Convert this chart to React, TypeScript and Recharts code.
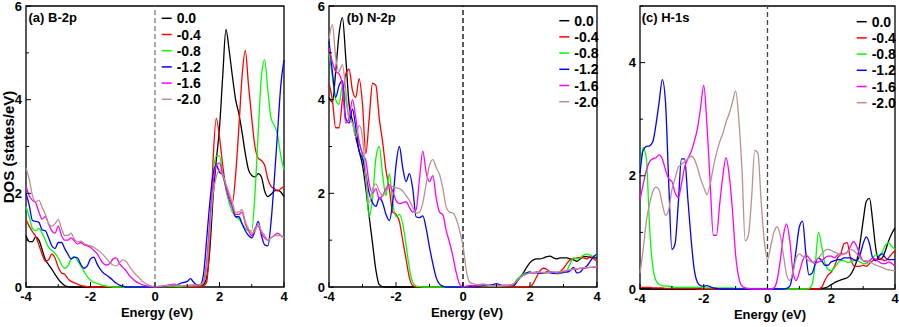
import React from 'react';
import { LineChart, Line, XAxis, YAxis, ReferenceLine, ReferenceArea } from 'recharts';

// energy grid (eV)
const energy = [
  -4.0, -3.9, -3.8, -3.7, -3.6, -3.5, -3.4, -3.3, -3.2, -3.1,
  -3.0, -2.9, -2.8, -2.7, -2.6, -2.5, -2.4, -2.3, -2.2, -2.1,
  -2.0, -1.9, -1.8, -1.7, -1.6, -1.5, -1.4, -1.3, -1.2, -1.1,
  -1.0, -0.9, -0.8, -0.7, -0.6, -0.5, -0.4, -0.3, -0.2, -0.1,
  0.0, 0.1, 0.2, 0.3, 0.4, 0.5, 0.6, 0.7, 0.8, 0.9,
  1.0, 1.1, 1.2, 1.3, 1.4, 1.5, 1.6, 1.7, 1.8, 1.9,
  2.0, 2.1, 2.2, 2.3, 2.4, 2.5, 2.6, 2.7, 2.8, 2.9,
  3.0, 3.1, 3.2, 3.3, 3.4, 3.5, 3.6, 3.7, 3.8, 3.9,
  4.0,
];

const seriesNames = ['0.0', '-0.4', '-0.8', '-1.2', '-1.6', '-2.0'];
const seriesColors = ['#000000', '#ff0000', '#00ff00', '#0000ff', '#ff00ff', '#bc8f8f'];

// (a) B-2p
const b2p00 = [
  1.1, 0.97, 0.97, 1.07, 1.0, 0.8, 0.58, 0.48, 0.38, 0.27,
  0.17, 0.09, 0.03, 0.01, 0, 0, 0, 0, 0, 0,
  0, 0, 0, 0, 0, 0, 0, 0, 0, 0,
  0, 0, 0, 0, 0, 0, 0, 0, 0, 0,
  0, 0.01, 0.01, 0.01, 0.02, 0.02, 0.02, 0.01, 0.01, 0.01,
  0.01, 0.02, 0.02, 0.02, 0.02, 0.05, 0.2, 0.8, 1.9, 2.7,
  3.4, 4.5, 5.5, 5.05, 4.5, 4.0, 3.7, 3.3, 2.85, 2.5,
  2.38, 2.35, 2.42, 2.35, 2.05, 1.93, 1.98, 2.05, 2.07, 2.03,
  1.93,
];
const b2p04 = [
  1.44, 1.3, 1.18, 1.08, 0.9, 0.7, 0.55, 0.58, 0.7, 0.62,
  0.42, 0.3, 0.27, 0.18, 0.12, 0.09, 0.06, 0.03, 0.02, 0.01,
  0, 0, 0, 0, 0, 0, 0, 0, 0, 0,
  0, 0, 0, 0, 0, 0, 0, 0, 0, 0,
  0, 0.01, 0.01, 0.01, 0.01, 0.01, 0.01, 0.01, 0.01, 0.01,
  0.01, 0.01, 0.01, 0.01, 0.01, 0.02, 0.1, 1.0, 2.7, 3.6,
  3.2, 2.6, 2.1, 1.85, 1.8, 2.4, 3.4, 4.5, 5.05, 4.3,
  3.6, 3.0, 2.75, 2.7, 2.6, 2.3, 2.15, 2.1, 2.05, 2.1,
  2.15,
];
const b2p08 = [
  1.72, 1.5, 1.25, 1.2, 1.25, 1.15, 1.0, 0.85, 0.78, 0.72,
  0.62, 0.48, 0.4, 0.45, 0.6, 0.65, 0.56, 0.45, 0.33, 0.22,
  0.15, 0.1, 0.08, 0.05, 0.03, 0.02, 0.01, 0, 0, 0,
  0, 0, 0, 0, 0, 0, 0, 0, 0, 0,
  0, 0.01, 0.01, 0.01, 0.02, 0.02, 0.02, 0.01, 0.01, 0.02,
  0.02, 0.03, 0.03, 0.03, 0.04, 0.1, 0.5, 1.3, 2.4, 2.8,
  2.8, 2.4, 2.1, 1.8, 1.6, 1.5, 1.45, 1.35, 1.25, 1.2,
  1.2, 2.0, 3.3, 4.5, 4.85, 4.2, 3.6, 3.45, 3.25, 2.8,
  2.5,
];
const b2p12 = [
  2.0, 1.75, 1.42, 1.4, 1.38, 1.22, 1.2, 1.05, 0.88, 0.82,
  0.95, 0.95, 0.82, 0.7, 0.6, 0.64, 0.62, 0.48, 0.4, 0.45,
  0.6, 0.64, 0.5, 0.38, 0.3, 0.25, 0.2, 0.14, 0.08, 0.04,
  0.02, 0, 0, 0, 0, 0, 0, 0, 0, 0,
  0, 0.01, 0.01, 0.02, 0.03, 0.04, 0.04, 0.05, 0.08, 0.1,
  0.12, 0.18, 0.1, 0.05, 0.05, 0.25, 1.0, 1.8, 2.4, 2.6,
  2.45, 2.4, 2.15, 1.9, 1.7, 1.5, 1.5, 1.35, 1.2, 1.1,
  1.05, 1.2, 1.4, 1.1, 0.9, 0.88, 1.4, 2.3, 3.3, 4.3,
  4.85,
];
const b2p16 = [
  2.15, 1.95, 1.85, 1.8, 1.6, 1.45, 1.5, 1.35, 1.2, 1.15,
  1.3, 1.1, 1.0, 1.0, 1.05, 0.98, 0.92, 0.95, 0.9, 0.88,
  0.85, 0.78, 0.72, 0.6, 0.5, 0.47, 0.5, 0.6, 0.62, 0.5,
  0.42, 0.35, 0.25, 0.18, 0.12, 0.08, 0.05, 0.03, 0.02, 0.01,
  0, 0.01, 0.02, 0.03, 0.04, 0.05, 0.06, 0.04, 0.03, 0.03,
  0.03, 0.04, 0.04, 0.04, 0.05, 0.1, 0.5, 1.4, 2.2, 2.6,
  2.65, 2.4, 2.15, 1.9, 1.7, 1.55, 1.55, 1.6, 1.35, 1.2,
  1.1, 1.25, 1.3, 1.15, 1.05, 1.0, 1.05, 1.1, 1.15, 1.1,
  1.05,
];
const b2p20 = [
  2.55, 2.3, 1.95, 1.82, 1.85, 1.7, 1.55, 1.35, 1.3, 1.35,
  1.44, 1.25, 1.1, 1.1, 1.15, 1.02, 0.97, 0.98, 0.93, 0.9,
  0.88, 0.85, 0.8, 0.75, 0.68, 0.6, 0.52, 0.47, 0.45, 0.52,
  0.58, 0.55, 0.45, 0.35, 0.27, 0.2, 0.13, 0.08, 0.04, 0.02,
  0.01, 0.02, 0.02, 0.03, 0.03, 0.04, 0.04, 0.04, 0.03, 0.03,
  0.03, 0.03, 0.04, 0.04, 0.05, 0.1, 0.4, 1.2, 2.0, 2.35,
  2.5, 2.4, 2.2, 2.0, 1.8, 1.6, 1.6, 1.65, 1.4, 1.25,
  1.15, 1.2, 1.35, 1.2, 1.1, 1.0, 1.05, 1.1, 1.1, 1.1,
  1.05,
];

// (b) N-2p
const n2p00 = [
  4.05, 3.95, 4.6, 5.4, 5.75, 4.9, 3.9, 3.55, 3.2, 2.9,
  2.6, 2.1, 1.5, 0.93, 0.36, 0.05, 0.01, 0, 0, 0,
  0, 0, 0, 0, 0, 0, 0, 0, 0, 0,
  0, 0, 0, 0, 0, 0, 0, 0, 0, 0,
  0, 0.01, 0.01, 0.01, 0.01, 0.01, 0.01, 0.01, 0.01, 0.01,
  0.01, 0.01, 0.01, 0.01, 0.01, 0.02, 0.1, 0.2, 0.3, 0.42,
  0.52, 0.58, 0.6, 0.6, 0.62, 0.65, 0.66, 0.62, 0.6, 0.62,
  0.62, 0.62, 0.6, 0.58, 0.55, 0.6, 0.65, 0.65, 0.63, 0.62,
  0.62,
];
const n2p04 = [
  4.35, 4.0, 3.4, 3.4, 4.0, 4.55, 4.65, 4.2, 4.05, 4.45,
  3.9, 2.85, 3.6, 4.35, 4.3, 3.6, 3.1, 2.5, 2.1, 1.6,
  1.55, 1.4, 1.0, 0.6, 0.2, 0.03, 0, 0, 0, 0,
  0, 0, 0, 0, 0, 0, 0, 0, 0, 0,
  0, 0.01, 0.01, 0.01, 0.01, 0.01, 0.01, 0.01, 0.01, 0.01,
  0.01, 0.01, 0.01, 0.01, 0.01, 0.01, 0.01, 0.01, 0.01, 0.01,
  0.01, 0.08, 0.22, 0.35, 0.4, 0.38, 0.32, 0.3, 0.3, 0.33,
  0.4, 0.5, 0.58, 0.6, 0.62, 0.63, 0.62, 0.6, 0.65, 0.6,
  0.55,
];
const n2p08 = [
  5.0, 4.5, 4.0, 3.9, 4.3, 4.0, 3.6, 3.5, 3.3, 3.1,
  2.8, 2.3, 1.5, 1.9, 2.75, 3.0, 2.4, 1.95, 2.42, 1.8,
  1.5, 1.55, 1.35, 0.9, 0.4, 0.1, 0.02, 0.01, 0, 0,
  0, 0, 0, 0, 0, 0, 0, 0, 0, 0,
  0, 0.01, 0.01, 0.02, 0.03, 0.03, 0.02, 0.02, 0.02, 0.02,
  0.02, 0.02, 0.03, 0.03, 0.03, 0.05, 0.15, 0.22, 0.28, 0.3,
  0.3, 0.31, 0.32, 0.3, 0.29, 0.3, 0.32, 0.3, 0.28, 0.29,
  0.3, 0.35, 0.5, 0.62, 0.6, 0.62, 0.68, 0.7, 0.68, 0.65,
  0.7,
];
const n2p12 = [
  5.25, 4.6, 4.05, 4.3, 4.4, 3.6, 3.5, 3.8, 3.4, 2.9,
  2.75, 2.4, 2.0, 1.8, 1.72, 1.9, 1.8, 1.55, 1.42, 1.8,
  2.6, 3.0, 2.55, 2.25, 2.42, 2.1, 1.5, 1.48, 1.52, 1.25,
  0.85, 0.5, 0.2, 0.06, 0.02, 0, 0, 0, 0, 0,
  0, 0.01, 0.01, 0.02, 0.02, 0.02, 0.03, 0.03, 0.04, 0.05,
  0.07, 0.05, 0.03, 0.03, 0.03, 0.05, 0.12, 0.2, 0.25, 0.3,
  0.32, 0.3, 0.3, 0.29, 0.3, 0.32, 0.3, 0.29, 0.3, 0.3,
  0.32, 0.32, 0.35, 0.42, 0.3, 0.32, 0.4, 0.45, 0.55, 0.65,
  0.7,
];
const n2p16 = [
  5.1, 4.8, 4.6, 4.55, 4.3, 3.5, 3.6, 4.0, 3.6, 3.1,
  2.85, 2.7, 2.2, 2.0, 2.1, 1.88, 1.95, 2.1, 2.18, 2.05,
  1.85, 1.78, 1.8, 1.82, 1.7, 1.6, 1.65, 2.3, 2.9, 2.45,
  2.25, 2.38, 1.9, 1.6, 1.54, 1.2, 0.95, 0.65, 0.3, 0.06,
  0, 0.02, 0.03, 0.03, 0.04, 0.05, 0.06, 0.05, 0.03, 0.03,
  0.03, 0.04, 0.04, 0.04, 0.04, 0.06, 0.12, 0.2, 0.25, 0.28,
  0.3, 0.3, 0.32, 0.31, 0.3, 0.31, 0.33, 0.32, 0.3, 0.31,
  0.33, 0.35, 0.36, 0.38, 0.38, 0.4, 0.4, 0.41, 0.42, 0.42,
  0.42,
];
const n2p20 = [
  5.3, 5.6, 4.9, 4.6, 4.75, 4.2, 3.6, 3.5, 3.2, 3.45,
  3.2, 2.4, 1.8, 2.1, 2.2, 2.05, 1.95, 2.05, 2.15, 2.15,
  2.12, 2.1, 2.05, 1.95, 1.85, 1.7, 1.58, 1.6, 1.8, 2.2,
  2.6, 2.72, 2.55, 2.4, 2.1, 1.7, 1.6, 1.58, 1.45, 1.2,
  0.88, 0.35, 0.1, 0.07, 0.05, 0.04, 0.05, 0.04, 0.03, 0.03,
  0.03, 0.03, 0.03, 0.03, 0.04, 0.06, 0.12, 0.2, 0.25, 0.28,
  0.3, 0.31, 0.3, 0.32, 0.31, 0.3, 0.32, 0.33, 0.32, 0.33,
  0.34, 0.35, 0.37, 0.38, 0.39, 0.4, 0.41, 0.42, 0.42, 0.43,
  0.43,
];

// (c) H-1s
const h1s00 = [
  0, 0, 0, 0, 0, 0, 0, 0, 0, 0,
  0, 0, 0, 0, 0, 0, 0, 0, 0, 0,
  0, 0, 0, 0, 0, 0, 0, 0, 0, 0,
  0, 0, 0, 0, 0, 0, 0, 0, 0, 0,
  0, 0, 0, 0, 0, 0, 0, 0, 0, 0,
  0, 0, 0, 0, 0, 0, 0, 0.01, 0.02, 0.04,
  0.08, 0.11, 0.14, 0.16, 0.18, 0.2, 0.25, 0.35, 0.5, 0.8,
  1.2, 1.55, 1.6, 1.2, 0.7, 0.52, 0.55, 0.68, 0.85, 0.98,
  1.08,
];
const h1s04 = [
  0.03, 0.03, 0.03, 0.03, 0.02, 0.02, 0.02, 0.02, 0.01, 0.01,
  0.01, 0.01, 0.01, 0.01, 0.01, 0.01, 0.01, 0.01, 0, 0,
  0, 0, 0, 0, 0, 0, 0, 0, 0, 0,
  0, 0, 0, 0, 0, 0, 0, 0, 0, 0,
  0, 0, 0, 0, 0, 0, 0, 0, 0, 0,
  0, 0, 0, 0, 0, 0, 0, 0.03, 0.15, 0.25,
  0.3, 0.4, 0.55, 0.62, 0.8, 0.82, 0.55, 0.42, 0.4, 0.4,
  0.42, 0.4, 0.45, 0.5, 0.52, 0.55, 0.52, 0.5, 0.55, 0.62,
  0.68,
];
const h1s08 = [
  2.1, 2.5, 2.3, 1.1, 0.4, 0.15, 0.08, 0.06, 0.05, 0.05,
  0.04, 0.03, 0.03, 0.03, 0.03, 0.03, 0.03, 0.03, 0.03, 0.03,
  0.02, 0.02, 0.02, 0.02, 0.02, 0.02, 0.02, 0.02, 0.02, 0.02,
  0.01, 0.01, 0.01, 0.01, 0.01, 0.01, 0.01, 0.01, 0.01, 0.01,
  0.01, 0, 0, 0, 0, 0, 0, 0, 0, 0,
  0, 0, 0, 0.01, 0.08, 0.45, 1.0, 0.75, 0.45, 0.35,
  0.32, 0.38, 0.45, 0.5, 0.5, 0.47, 0.48, 0.5, 0.5, 0.48,
  0.45, 0.45, 0.5, 0.55, 0.6, 0.6, 0.65, 0.78, 0.82, 0.75,
  0.7,
];
const h1s12 = [
  2.05, 2.45, 2.52, 2.53, 2.6, 2.9, 3.3, 3.7, 3.3, 1.9,
  0.7, 0.8, 1.5, 2.3, 2.3, 1.6, 0.9, 0.35, 0.12, 0.06,
  0.05, 0.06, 0.04, 0.02, 0.01, 0, 0, 0, 0, 0,
  0, 0, 0, 0, 0, 0, 0, 0, 0, 0,
  0, 0, 0, 0, 0, 0, 0.01, 0.05, 0.3, 0.7,
  1.1, 1.2, 0.65, 0.25, 0.28, 0.45, 0.55, 0.5, 0.42, 0.42,
  0.48, 0.5, 0.52, 0.52, 0.55, 0.55, 0.55, 0.52, 0.5, 0.6,
  0.8, 0.92, 0.8, 0.55, 0.5, 0.58, 0.62, 0.55, 0.52, 0.52,
  0.52,
];
const h1s16 = [
  1.58, 1.85, 2.1, 2.25, 2.3, 2.32, 2.37, 2.3, 2.1, 1.95,
  1.9, 1.7, 1.62, 1.85, 2.15, 2.3, 2.42, 2.6, 2.83, 3.2,
  3.6, 2.9, 1.9, 0.95, 0.95, 1.5, 2.0, 2.32, 2.0, 1.4,
  0.6, 0.2, 0.05, 0.02, 0.01, 0, 0, 0, 0, 0,
  0, 0, 0.02, 0.15, 0.5, 0.95, 1.15, 0.85, 0.3, 0.15,
  0.3, 0.5, 0.6, 0.55, 0.48, 0.45, 0.48, 0.5, 0.55, 0.58,
  0.58, 0.55, 0.6, 0.62, 0.62, 0.65, 0.75, 0.84, 0.75, 0.6,
  0.5, 0.48, 0.5, 0.55, 0.52, 0.48, 0.45, 0.45, 0.48, 0.45,
  0.4,
];
const h1s20 = [
  0.28, 0.7, 1.2, 1.5, 1.72, 1.8, 1.75, 1.5, 1.3, 1.4,
  1.75, 1.95, 2.15, 2.2, 2.25, 2.3, 2.35, 2.3, 2.15, 1.95,
  1.8, 1.67, 1.85, 2.15, 2.4, 2.6, 2.75, 2.95, 3.1, 3.3,
  3.5, 3.0, 2.1, 0.85, 0.95, 1.6, 2.45, 2.4, 1.55, 0.85,
  0.52, 0.75, 1.0, 1.1, 0.95, 0.6, 0.25, 0.15, 0.3, 0.55,
  0.62, 0.58, 0.55, 0.5, 0.48, 0.5, 0.55, 0.62, 0.68, 0.7,
  0.68, 0.65, 0.63, 0.6, 0.62, 0.65, 0.7, 0.68, 0.62, 0.55,
  0.5, 0.5, 0.48, 0.45, 0.42, 0.4, 0.38, 0.35, 0.34, 0.33,
  0.32,
];

const xTicks = [-4, -3, -2, -1, 0, 1, 2, 3, 4];

function buildRows(series: number[][]) {
  return energy.map((e, i) => {
    const row: Record<string, number> = { e };
    series.forEach((s, k) => { row['s' + k] = s[i]; });
    return row;
  });
}

const narrow = '"Liberation Sans Narrow", "Liberation Sans", Arial, sans-serif';
const tickFont = { fontFamily: narrow, fontWeight: 700, fontSize: 13, fill: '#000' };

function XTick(props: any) {
  const { x, y, payload } = props;
  const v = payload.value;
  const major = v % 2 === 0;
  return (
    <g>
      <line x1={x} x2={x} y1={y} y2={y - (major ? 5 : 3)} stroke="#000" strokeWidth={1} />
      {major && <text x={x} y={y + 14} textAnchor="middle" style={tickFont}>{v}</text>}
    </g>
  );
}

function YTick(props: any) {
  const { x, y, payload } = props;
  const v = payload.value;
  const major = v % 2 === 0;
  return (
    <g>
      <line x1={x} x2={x + (major ? 5 : 3)} y1={y} y2={y} stroke="#000" strokeWidth={1} />
      {major && <text x={x - 4} y={y + 4.5} textAnchor="end" style={tickFont}>{v}</text>}
    </g>
  );
}

interface PanelProps {
  left: number;
  width: number;
  yWidth: number;
  right: number;
  xHeight: number;
  yMax: number;
  rows: Record<string, number>[];
  dashColor: string;
}

function Panel({ left, width, yWidth, right, xHeight, yMax, rows, dashColor }: PanelProps) {
  const yTicks = Array.from({ length: yMax + 1 }, (_, i) => i);
  return (
    <div style={{ position: 'absolute', left, top: 0 }}>
      <LineChart width={width} height={327} data={rows} margin={{ top: 6, right, left: 0, bottom: 0 }}>
        <XAxis dataKey="e" type="number" domain={[-4, 4]} ticks={xTicks} interval={0}
          tick={<XTick />} tickLine={false} tickSize={0} tickMargin={0} axisLine={false} height={xHeight} />
        <YAxis type="number" domain={[0, yMax]} ticks={yTicks} interval={0} width={yWidth}
          tick={<YTick />} tickLine={false} tickSize={0} tickMargin={0} axisLine={false} />
        <ReferenceLine x={0} stroke={dashColor} strokeWidth={1.3} strokeDasharray="5 3" />
        {seriesNames.map((n, k) => (
          <Line key={n} dataKey={'s' + k} type="monotone" stroke={seriesColors[k]} strokeWidth={1.3}
            dot={false} activeDot={false} isAnimationActive={false} />
        ))}
        <ReferenceArea x1={-4} x2={4} y1={0} y2={yMax} fill="none" stroke="#000" strokeWidth={1.3} />
      </LineChart>
    </div>
  );
}

const panels = [
  { title: '(a) B-2p', tx: 28.5, ty: 21.5, lx: 161.7, ly: 18.3, ex: 157, ey: 316.5 },
  { title: '(b) N-2p', tx: 346.7, ty: 21.5, lx: 559.3, ly: 20.7, ex: 467, ey: 317 },
  { title: '(c) H-1s', tx: 641.7, ty: 22, lx: 856.7, ly: 21.7, ex: 770, ey: 319 },
];

export default function App() {
  return (
    <div style={{ position: 'absolute', left: 0, top: 0, width: 899, height: 327, background: '#fff' }}>
      <Panel left={0} width={300} yWidth={26} right={16} xHeight={40} yMax={6}
        rows={buildRows([b2p00, b2p04, b2p08, b2p12, b2p16, b2p20])} dashColor="#777" />
      <Panel left={300} width={310} yWidth={29} right={13} xHeight={40} yMax={6}
        rows={buildRows([n2p00, n2p04, n2p08, n2p12, n2p16, n2p20])} dashColor="#000" />
      <Panel left={600} width={299} yWidth={40} right={4} xHeight={38} yMax={5}
        rows={buildRows([h1s00, h1s04, h1s08, h1s12, h1s16, h1s20])} dashColor="#444" />
      <svg width={899} height={327} style={{ position: 'absolute', left: 0, top: 0, pointerEvents: 'none' }}>
        <text x={13.5} y={147} transform="rotate(-90, 13.5, 147)" textAnchor="middle"
          style={{ fontFamily: '"Liberation Sans", Arial, sans-serif', fontWeight: 700, fontSize: 15 }}>
          DOS (states/eV)
        </text>
        {panels.map((p) => (
          <g key={p.title}>
            <text x={p.tx} y={p.ty} style={{ fontFamily: narrow, fontWeight: 700, fontSize: 13 }}>{p.title}</text>
            <text x={p.ex} y={p.ey} textAnchor="middle" style={{ fontFamily: narrow, fontWeight: 700, fontSize: 13 }}>
              Energy (eV)
            </text>
            {seriesNames.map((n, k) => {
              const cy = p.ly + k * 16.2;
              return (
                <g key={n}>
                  <line x1={p.lx} x2={p.lx + 10} y1={cy} y2={cy} stroke={seriesColors[k]} strokeWidth={1.5} />
                  <text x={p.lx + 15} y={cy + 5} style={{ fontFamily: narrow, fontWeight: 700, fontSize: 14 }}>{n}</text>
                </g>
              );
            })}
          </g>
        ))}
      </svg>
    </div>
  );
}
